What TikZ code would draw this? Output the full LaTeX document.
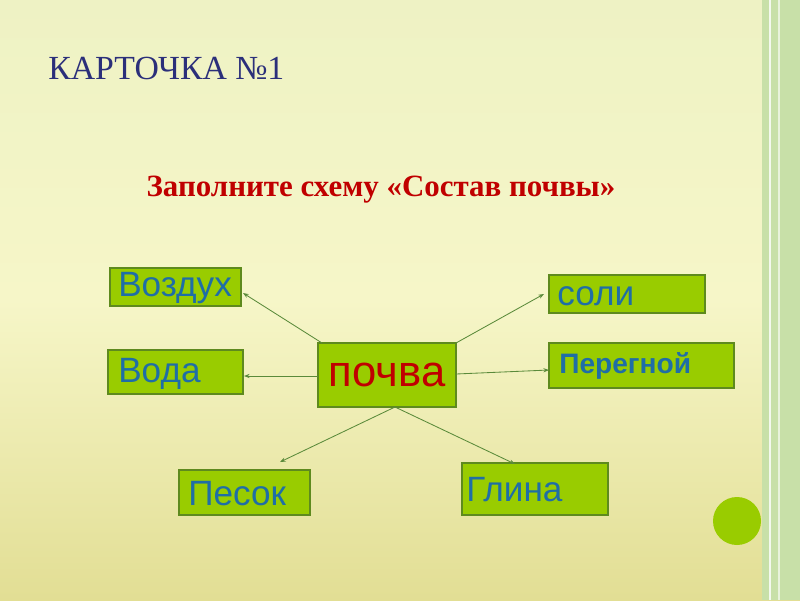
\documentclass[tikz,border=0pt]{standalone}
\usepackage{fontspec}
\setmainfont{Liberation Serif}
\setsansfont{Liberation Sans}
\usetikzlibrary{arrows.meta}
\definecolor{bgtop}{HTML}{EEF2C4}
\definecolor{bgmid}{HTML}{F6F6C8}
\definecolor{bgbot}{HTML}{E2DE94}
\definecolor{boxg}{HTML}{99CC00}
\definecolor{boxd}{HTML}{5E8A1E}
\definecolor{txtb}{HTML}{1F6EA6}
\definecolor{navy}{HTML}{2B2F7A}
\definecolor{redd}{HTML}{C00000}
\definecolor{arr}{HTML}{5A8A3A}
\definecolor{stripe}{HTML}{C8E0A8}
\tikzset{
  gbox/.style={draw=boxd, line width=0.8pt, fill=boxg},
  lbl/.style={font=\sffamily\fontsize{25}{25}\selectfont, text=txtb, anchor=west, inner sep=0pt},
  con/.style={draw=arr, line width=0.6pt, -{Stealth[length=4pt,width=3pt]}}
}
\begin{document}
\begin{tikzpicture}[x=0.025cm,y=-0.025cm]
\useasboundingbox (0,0) rectangle (800,600);
\shade[top color=bgtop, bottom color=bgbot, middle color=bgmid] (0,0) rectangle (800,600);
\fill[stripe] (762,0) rectangle (800,600);
\draw[white!80!stripe, line width=2pt] (770,0) -- (770,600);
\draw[white!60!stripe, line width=1pt] (779,0) -- (779,600);
\fill[boxg] (737,521) circle (24);
\node[anchor=west, inner sep=0pt, text=navy, font=\fontsize{24}{24}\selectfont] (title) at (48,68) {КАРТОЧКА №1};
\node[text=redd, font=\bfseries\fontsize{22}{22}\selectfont] (sub) at (381,190) {Заполните схему «Состав почвы»};
% boxes
\path[gbox] (110,268) rectangle (241,306); \node[lbl] (vozd) at (118,288) {Воздух};
\coordinate (vozdE) at (243,293);
\path[gbox] (108,350) rectangle (243,394); \node[lbl] (voda) at (118,374) {Вода};
\coordinate (vodaE) at (244,376);
\path[gbox] (318,343) rectangle (456,407); \node[font=\sffamily\fontsize{31}{31}\selectfont, text=redd] (pochva) at (387,375) {почва};
\coordinate (pTL) at (322,343); \coordinate (pL) at (318,376); \coordinate (pTR) at (456,343);
\coordinate (pR) at (456,374); \coordinate (pB) at (395,407);
\path[gbox] (549,275) rectangle (705,313); \node[lbl] (soli) at (557,296) {соли};
\coordinate (soliE) at (544,294);
\path[gbox] (549,343) rectangle (734,388); \node[lbl, font=\sffamily\bfseries\fontsize{20}{20}\selectfont] (pereg) at (559,366) {Перегной};
\coordinate (peregE) at (549,370);
\path[gbox] (179,470) rectangle (310,515); \node[lbl] (pesok) at (188,494) {Песок};
\coordinate (pesokE) at (280,462);
\path[gbox] (462,463) rectangle (608,515); \node[lbl] (glina) at (466,490) {Глина};
\coordinate (glinaE) at (515,464);
\draw[con] (pTL) -- (vozdE);
\draw[con] (pL) -- (vodaE);
\draw[con] (pTR) -- (soliE);
\draw[con] (pR) -- (peregE);
\draw[con] (pB) -- (pesokE);
\draw[con] (pB) -- (glinaE);
\end{tikzpicture}
\end{document}
